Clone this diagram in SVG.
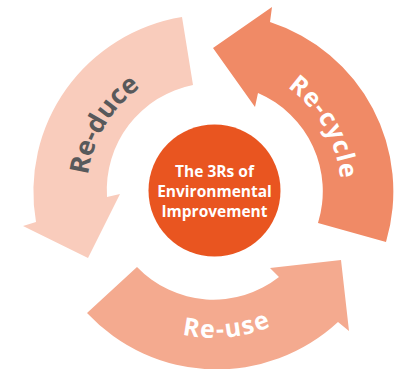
<svg xmlns="http://www.w3.org/2000/svg" width="408" height="369" viewBox="0 0 408 369">
<style>
.lbl{font-family:"Open Sans","Liberation Sans",sans-serif;font-weight:700;}
.center{font-family:"Open Sans","Liberation Sans",sans-serif;font-weight:700;font-size:15.5px;fill:#ffffff;text-anchor:middle;}
</style>
<defs>
<path id="pReduce" d="M94.66,234.44 A127,127 0 0 1 200.73,64.70"/>
<path id="pRecycle" d="M229.48,64.95 A127,127 0 0 1 332.57,236.51"/>
<path id="pReuse" d="M107.19,292.0 A147,147 0 0 0 337.85,270.2"/>
</defs>
<rect width="408" height="369" fill="#ffffff"/>
<g id="connectors">
<g id="reduce">
<path d="M182,17 A177,177 0 0 0 36,222 L23,226 L88,258 L120,194 L107,197 A107,107 0 0 1 193,85 Z" fill="#F9CCBC"/>
<text class="lbl" font-size="26.5" fill="#58595B"><textPath href="#pReduce" startOffset="49%" text-anchor="middle">Re-duce</textPath></text>
</g>
<g id="recycle">
<path d="M386,242 A178,178 0 0 0 270,22 L272,7 L213,48 L255,107 L258,93 A107,107 0 0 1 318,223 Z" fill="#F08A66"/>
<text class="lbl" font-size="25" fill="#ffffff" letter-spacing="1"><textPath href="#pRecycle" startOffset="51%" text-anchor="middle">Re-cycle</textPath></text>
</g>
<g id="reuse">
<path d="M87,313 A178,178 0 0 0 338,322 L349,331 L341,260 L270,268 L279,277 A106,106 0 0 1 137,267 Z" fill="#F4AA8F"/>
<text class="lbl" font-size="25" fill="#ffffff" letter-spacing="1.5"><textPath href="#pReuse" startOffset="50%" text-anchor="middle">Re-use</textPath></text>
</g>
</g>
<g id="hub">
<circle cx="214.5" cy="190.5" r="66" fill="#E95520"/>
<text class="center" x="214.5" y="177">The 3Rs of</text>
<text class="center" x="214.5" y="197">Environmental</text>
<text class="center" x="214.5" y="217">Improvement</text>
</g>
</svg>
